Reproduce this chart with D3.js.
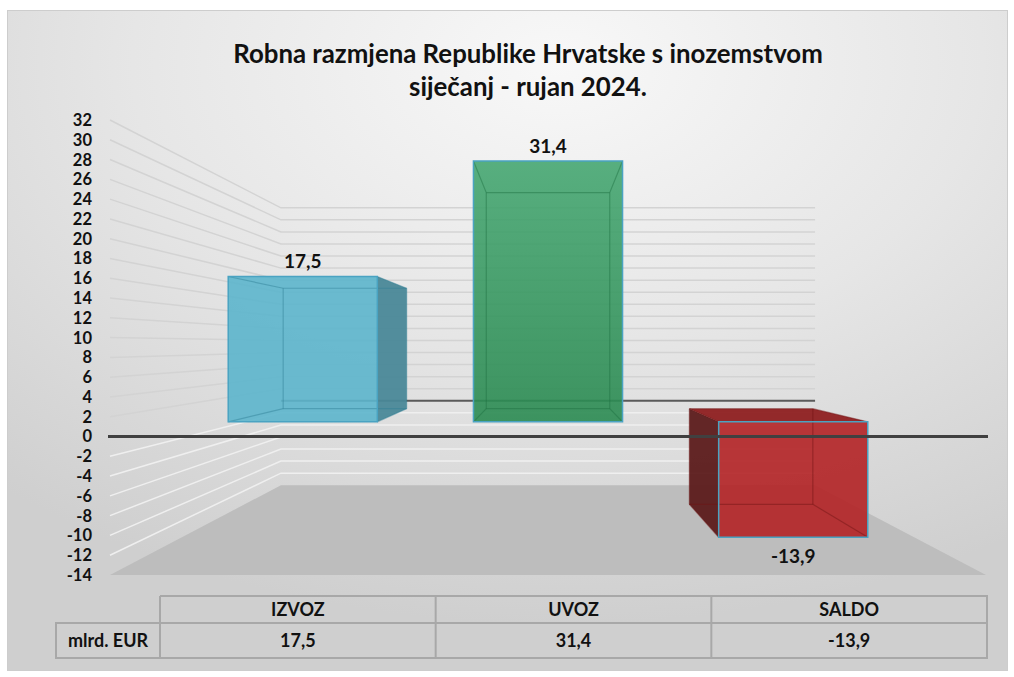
<!DOCTYPE html>
<html>
<head>
<meta charset="utf-8">
<script src="https://cdn.jsdelivr.net/npm/d3@7"></script>
<style>
  body { margin: 0; background: #fff; }
  svg { display: block; font-family: Lato, "Open Sans", sans-serif; }
</style>
</head>
<body>
<div id="chart"></div>
<script>
// data
const categories = ["IZVOZ", "UVOZ", "SALDO"];
const values = [17.5, 31.4, -13.9];
const yTicks = [-14, -12, -10, -8, -6, -4, -2, 0, 2, 4, 6, 8, 10, 12, 14, 16, 18, 20, 22, 24, 26, 28, 30, 32];
const titleLines = ["Robna razmjena Republike Hrvatske s inozemstvom", "siječanj - rujan 2024."];
const rowLabel = "mlrd. EUR";

// bar styles (front, side, top, edge)
const barStyle = {
    IZVOZ: { front: "#5cb5cc", side: "#4a8898", top: "#4f9fb3", edge: "#2f7f95" },
    UVOZ:  { front: "#33985d", side: "#23744a", top: "#46a872", edge: "#1c6e40" },
    SALDO: { front: "#b32225", side: "#5c1b1b", top: "#8e1f20", edge: "#6e1515" }
};

const W = 1014, H = 677;
const hr = d3.formatLocale({ decimal: ",", thousands: ".", grouping: [3], currency: ["", ""], minus: "-" });
const fmt = hr.format(".1f");

const svg = d3.select("#chart")
    .append("svg")
    .attr("width", W)
    .attr("height", H);

// background gradient
const defs = svg.append("defs");
const bg = defs.append("radialGradient")
    .attr("id", "bg")
    .attr("cx", "55%").attr("cy", "8%").attr("r", "85%");
bg.append("stop").attr("offset", "0%").attr("stop-color", "#f8f8f8");
bg.append("stop").attr("offset", "50%").attr("stop-color", "#e6e6e6");
bg.append("stop").attr("offset", "100%").attr("stop-color", "#cfcfcf");

const green = defs.append("linearGradient")
    .attr("id", "greenGrad")
    .attr("x1", 0).attr("y1", 0).attr("x2", 0).attr("y2", 1);
green.append("stop").attr("offset", "0%").attr("stop-color", "#46a772");
green.append("stop").attr("offset", "100%").attr("stop-color", "#2a8a51");

svg.append("rect")
    .attr("x", 7.5).attr("y", 10.5)
    .attr("width", 1000).attr("height", 660)
    .attr("fill", "url(#bg)")
    .attr("stroke", "#cdcdcd");

// title
const titleG = svg.append("g").attr("font-weight", 700).attr("fill", "#111");
const t1 = titleG.append("text")
    .attr("x", 528).attr("y", 63)
    .attr("text-anchor", "middle")
    .attr("font-size", 22)
    .text(titleLines[0]);
// fit the first line to the reference width
const fs = 22 * 590 / t1.node().getComputedTextLength();
t1.attr("font-size", fs);
titleG.append("text")
    .attr("x", 528).attr("y", 96)
    .attr("text-anchor", "middle")
    .attr("font-size", fs)
    .text(titleLines[1]);

// scales (front plane)
const xScale = d3.scaleBand()
    .domain(categories)
    .range([110, 986])
    .paddingInner(0.392)
    .paddingOuter(0.196);

const yScale = d3.scaleLinear()
    .domain([-14, 32])
    .range([575, 120]);

// simple perspective: z = 0 front plane, z = 1 back wall
const vp = { x: 548, y: 345 };
const depthK = 0.64;
function proj(X, Y, z) {
    const s = 1 / (1 + depthK * z);
    return [vp.x + (X - vp.x) * s, vp.y + (Y - vp.y) * s];
}
const line = d3.line();
const [xL, xR] = xScale.range();

// floor at the minimum
const yMin = yScale(yTicks[0]);
svg.append("path")
    .attr("d", line([proj(xL, yMin, 0), proj(xR, yMin, 0), proj(xR, yMin, 1), proj(xL, yMin, 1)]) + "Z")
    .attr("fill", "#bdbdbd");

// gridlines on left wall and back wall
const grid = svg.append("g");
grid.selectAll(".side-grid")
    .data(yTicks.filter(d => d !== 0 && d !== yTicks[0]))
    .enter()
    .append("path")
    .attr("class", "side-grid")
    .attr("d", d => line([proj(xL, yScale(d), 0), proj(xL, yScale(d), 1), proj(xR, yScale(d), 1)]))
    .attr("fill", "none")
    .attr("stroke", d => d > 0 ? "#d3d3d3" : "#efefef")
    .attr("stroke-width", 1.5);

// back zero line
svg.append("path")
    .attr("d", line([proj(xL, yScale(0), 1), proj(xR, yScale(0), 1)]))
    .attr("stroke", "#5a5a5a")
    .attr("stroke-width", 2);

// y axis labels
svg.append("g")
    .selectAll("text")
    .data(yTicks)
    .enter()
    .append("text")
    .attr("x", 92)
    .attr("y", d => yScale(d))
    .attr("dy", "0.36em")
    .attr("text-anchor", "end")
    .attr("font-size", 16.5)
    .attr("font-weight", 700)
    .attr("fill", "#111")
    .text(d => d);

// bars as transparent boxes
const zFront = 0.298, zBack = 0.684;
const bars = svg.append("g");

categories.forEach((c, i) => {
    const v = values[i];
    const st = barStyle[c];
    const x0 = xScale(c), x1 = x0 + xScale.bandwidth();
    const yT = yScale(Math.max(v, 0)), yB = yScale(Math.min(v, 0));
    const F = [[x0, yT], [x1, yT], [x1, yB], [x0, yB]].map(p => proj(p[0], p[1], zFront));
    const B = [[x0, yT], [x1, yT], [x1, yB], [x0, yB]].map(p => proj(p[0], p[1], zBack));
    const g = bars.append("g");

    // visible side / top faces
    if (x1 < vp.x) {
        g.append("path").attr("d", line([F[1], B[1], B[2], F[2]]) + "Z")
            .attr("fill", st.side).attr("opacity", 0.95);
    }
    if (x0 > vp.x) {
        g.append("path").attr("d", line([F[0], B[0], B[3], F[3]]) + "Z")
            .attr("fill", st.side).attr("opacity", 0.95);
    }
    if (yT > vp.y) {
        g.append("path").attr("d", line([F[0], F[1], B[1], B[0]]) + "Z")
            .attr("fill", st.top).attr("opacity", 0.95);
    }
    // front face
    g.append("path").attr("d", line(F) + "Z")
        .attr("fill", c === "UVOZ" ? "url(#greenGrad)" : st.front)
        .attr("opacity", 0.9);

    // inner edges seen through the box
    const edges = [[B[0], B[1]], [B[1], B[2]], [B[2], B[3]], [B[3], B[0]],
                   [F[0], B[0]], [F[1], B[1]], [F[2], B[2]], [F[3], B[3]]];
    g.selectAll(".edge")
        .data(edges)
        .enter()
        .append("path")
        .attr("d", d => line(d))
        .attr("stroke", st.edge)
        .attr("stroke-opacity", 0.45)
        .attr("stroke-width", 1.2);

    // outline of the front face
    g.append("path").attr("d", line(F) + "Z")
        .attr("fill", "none")
        .attr("stroke", "#4aa3c2")
        .attr("stroke-width", 1.5);

    // data label
    const lx = (F[0][0] + F[1][0]) / 2;
    g.append("text")
        .attr("x", lx)
        .attr("y", v >= 0 ? F[0][1] - 8 : F[3][1] + 26)
        .attr("text-anchor", "middle")
        .attr("font-size", 19)
        .attr("font-weight", 700)
        .attr("fill", "#111")
        .text(fmt(v));
});

// front zero line
svg.append("line")
    .attr("x1", xL - 2).attr("x2", xR + 2)
    .attr("y1", yScale(0)).attr("y2", yScale(0))
    .attr("stroke", "#404040")
    .attr("stroke-width", 3);

// data table
const tScale = d3.scaleBand().domain(categories).range([160, 987]);
const tTop = 596, tMid = 623, tBot = 658, tLeft = 56;
const table = svg.append("g")
    .attr("font-weight", 700)
    .attr("font-size", 18)
    .attr("fill", "#111");

const tStroke = "#a8a8a8";
table.append("path")
    .attr("d", `M${tScale.range()[0]},${tTop}H${tScale.range()[1]}V${tBot}H${tLeft}V${tMid}H${tScale.range()[1]}`)
    .attr("fill", "none")
    .attr("stroke", tStroke)
    .attr("stroke-width", 2);
table.selectAll(".col-line")
    .data(categories)
    .enter()
    .append("line")
    .attr("class", "col-line")
    .attr("x1", d => tScale(d)).attr("x2", d => tScale(d))
    .attr("y1", tTop).attr("y2", tBot)
    .attr("stroke", tStroke)
    .attr("stroke-width", 2);

table.selectAll(".head")
    .data(categories)
    .enter()
    .append("text")
    .attr("class", "head")
    .attr("x", d => tScale(d) + tScale.bandwidth() / 2)
    .attr("y", 616)
    .attr("text-anchor", "middle")
    .text(d => d);

table.selectAll(".val")
    .data(values)
    .enter()
    .append("text")
    .attr("class", "val")
    .attr("x", (d, i) => tScale(categories[i]) + tScale.bandwidth() / 2)
    .attr("y", 647)
    .attr("text-anchor", "middle")
    .text(d => fmt(d));

table.append("text")
    .attr("x", (tLeft + tScale.range()[0]) / 2)
    .attr("y", 647)
    .attr("text-anchor", "middle")
    .text(rowLabel);
</script>
</body>
</html>
